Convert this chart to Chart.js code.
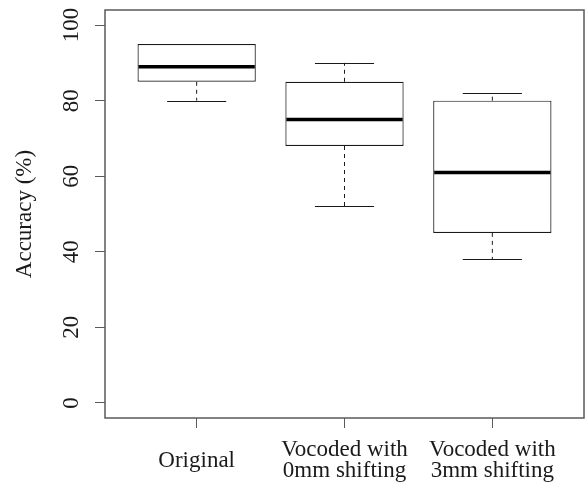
<!DOCTYPE html>
<html>
<head>
<meta charset="utf-8">
<script src="https://cdn.jsdelivr.net/npm/chart.js@4/dist/chart.umd.min.js"></script>
<style>
  body { margin: 0; background: #fff; }
</style>
</head>
<body>
<canvas id="boxplot" width="586" height="487"></canvas>
<script>
const categories = [['Original'], ['Vocoded with', '0mm shifting'], ['Vocoded with', '3mm shifting']];
const positions = [1, 2, 3];
const whiskerLow = [80, 52, 38];
const boxLow = [85, 68, 45];
const medians = [89, 75, 61];
const boxHigh = [95, 85, 80];
const whiskerHigh = [95, 90, 82];
const yTicks = [0, 20, 40, 60, 80, 100];

const serif = "'Liberation Serif', 'Times New Roman', serif";
const ink = '#1a1a1a';
const frameColor = '#5a5a5a';

// whiskers, caps, medians and the frame are drawn here from the scales
const boxPlugin = {
    id: 'boxParts',
    afterDatasetsDraw(chart) {
        const ctx = chart.ctx;
        const x = chart.scales.x;
        const y = chart.scales.y;
        ctx.save();
        for (let i = 0; i < positions.length; i++) {
            const cx = x.getPixelForValue(positions[i]);
            const half = x.getPixelForValue(positions[i] + 0.4) - cx;
            const capHalf = half / 2;

            ctx.strokeStyle = ink;
            ctx.lineWidth = 1;
            ctx.setLineDash([4, 4]);
            ctx.beginPath();
            ctx.moveTo(cx, y.getPixelForValue(boxLow[i]));
            ctx.lineTo(cx, y.getPixelForValue(whiskerLow[i]));
            ctx.moveTo(cx, y.getPixelForValue(boxHigh[i]));
            ctx.lineTo(cx, y.getPixelForValue(whiskerHigh[i]));
            ctx.stroke();

            ctx.setLineDash([]);
            ctx.lineWidth = 1.2;
            ctx.beginPath();
            for (const v of [whiskerLow[i], whiskerHigh[i]]) {
                if (v === boxLow[i] || v === boxHigh[i]) continue;
                const py = Math.round(y.getPixelForValue(v)) + 0.5;
                ctx.moveTo(cx - capHalf, py);
                ctx.lineTo(cx + capHalf, py);
            }
            ctx.stroke();

            ctx.lineWidth = 3.5;
            ctx.strokeStyle = '#000';
            ctx.beginPath();
            const my = y.getPixelForValue(medians[i]);
            ctx.moveTo(cx - half + 1, my);
            ctx.lineTo(cx + half - 1, my);
            ctx.stroke();
        }
        ctx.restore();
    },
    afterDraw(chart) {
        const ctx = chart.ctx;
        const a = chart.chartArea;
        const y = chart.scales.y;
        ctx.save();
        ctx.strokeStyle = frameColor;
        ctx.lineWidth = 1.5;
        ctx.strokeRect(a.left, a.top, a.right - a.left, a.bottom - a.top);

        // y tick labels are parallel to the axis, as in R
        ctx.fillStyle = ink;
        ctx.font = '23px ' + serif;
        ctx.textAlign = 'center';
        ctx.textBaseline = 'middle';
        for (const v of yTicks) {
            ctx.save();
            ctx.translate(72, y.getPixelForValue(v));
            ctx.rotate(-Math.PI / 2);
            ctx.fillText(String(v), 0, 0);
            ctx.restore();
        }
        ctx.restore();
    }
};

const chart = new Chart(document.getElementById('boxplot'), {
    type: 'bar',
    data: {
        datasets: [{
            data: positions.map((p, i) => ({ x: p, y: [boxLow[i], boxHigh[i]] })),
            backgroundColor: '#fff',
            borderColor: ink,
            borderWidth: 1.2,
            borderSkipped: false,
            barPercentage: 0.8,
            categoryPercentage: 1
        }]
    },
    options: {
        responsive: false,
        animation: false,
        layout: { padding: { left: 0, top: 10, right: 2, bottom: 0 } },
        plugins: {
            legend: { display: false },
            tooltip: { enabled: false }
        },
        scales: {
            x: {
                type: 'linear',
                min: 0.38,
                max: 3.62,
                offset: false,
                afterBuildTicks(scale) {
                    scale.ticks = positions.map(v => ({ value: v }));
                },
                afterFit(scale) { scale.height = 69; },
                border: { display: false },
                grid: { offset: false, drawOnChartArea: false, drawTicks: true, tickLength: 10, color: frameColor, lineWidth: 1 },
                ticks: {
                    autoSkip: false,
                    maxRotation: 0,
                    crossAlign: 'center',
                    padding: 22,
                    color: ink,
                    font: { family: serif, size: 23, lineHeight: '21px' },
                    callback: (v) => categories[positions.indexOf(v)]
                }
            },
            y: {
                min: -4,
                max: 104,
                afterBuildTicks(scale) {
                    scale.ticks = yTicks.map(v => ({ value: v }));
                },
                afterFit(scale) { scale.width = 105; },
                border: { display: false },
                grid: { drawOnChartArea: false, drawTicks: true, tickLength: 10, color: frameColor, lineWidth: 1 },
                ticks: { display: false },
                title: {
                    display: true,
                    text: 'Accuracy (%)',
                    color: ink,
                    padding: { top: 11, bottom: 0 },
                    font: { family: serif, size: 23 }
                }
            }
        }
    },
    plugins: [boxPlugin]
});
</script>
</body>
</html>
